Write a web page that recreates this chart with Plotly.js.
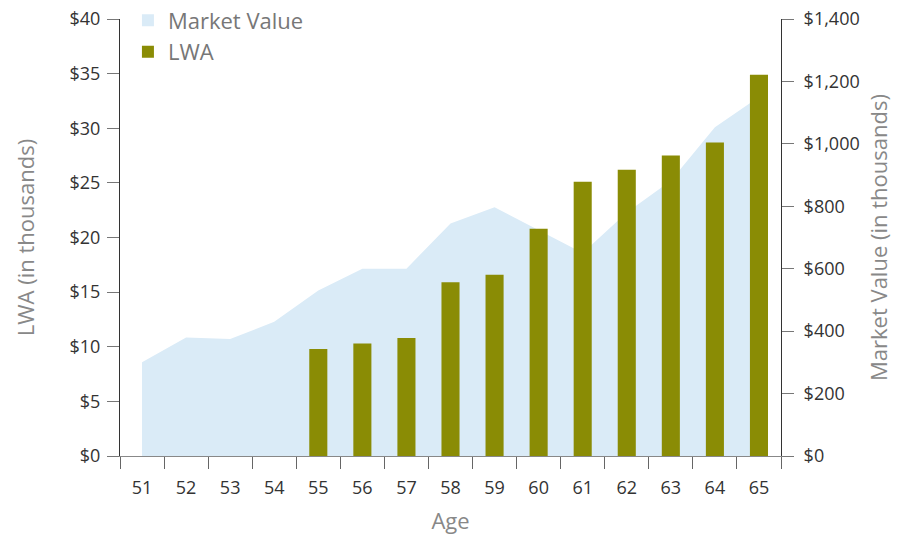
<!DOCTYPE html>
<html><head><meta charset="utf-8">
<script src="https://cdn.plot.ly/plotly-3.0.1.min.js"></script>
<style>body{margin:0;background:#fff}</style></head>
<body><div id="chart" style="width:901px;height:535px"></div>
<script>
const ages = ['51','52','53','54','55','56','57','58','59','60','61','62','63','64','65'];
const marketValue = [300, 380, 375, 430, 530, 600, 600, 745, 797, 723, 650, 780, 882, 1053, 1150];
const lwa = [null, null, null, null, 9.8, 10.3, 10.8, 15.9, 16.6, 20.8, 25.1, 26.2, 27.5, 28.7, 34.9];
const lwaTicks = [0, 5, 10, 15, 20, 25, 30, 35, 40];
const lwaTickText = ['$0', '$5', '$10', '$15', '$20', '$25', '$30', '$35', '$40'];
const mvTicks = [0, 200, 400, 600, 800, 1000, 1200, 1400];
const mvTickText = ['$0', '$200', '$400', '$600', '$800', '$1,000', '$1,200', '$1,400'];

const FONT = 'Open Sans, sans-serif';
const areaColor = '#DAEBF7';
const barColor = '#8A8C05';
const TITLE_SIZE = 22;
const TICK_SIZE = 18;

const traces = [
  {type:'scatter', mode:'lines', x: ages, y: marketValue, fill:'tozeroy', fillcolor: areaColor,
   line:{width:0, color: areaColor}, yaxis:'y', showlegend:false, hoverinfo:'skip', name:'Market Value'},
  {type:'bar', x: ages, y: ages.map(() => null), name:'Market Value', marker:{color: areaColor}, yaxis:'y', hoverinfo:'skip'},
  {type:'bar', x: ages, y: lwa, name:'LWA', marker:{color: barColor}, yaxis:'y2'}
];

const axisCommon = {
  showgrid:false, zeroline:false, showline:true, linecolor:'#333', linewidth:1,
  ticks:'outside', ticklen:12, tickcolor:'#777', tickwidth:1,
  tickfont:{family: FONT, size: TICK_SIZE, color:'#333'}, tickmode:'array'
};

const layout = {
  width:901, height:535,
  margin:{l:120, r:120, t:19, b:79, autoexpand:false},
  paper_bgcolor:'#fff', plot_bgcolor:'#fff',
  font:{family: FONT},
  bargap:0.59, barmode:'overlay',
  xaxis:{type:'category', range:[-0.5, 14.5], tickson:'boundaries', ticks:'outside', ticklen:12,
    tickcolor:'#666', showline:true, linecolor:'#888', showgrid:false, zeroline:false,
    ticklabelstandoff:15,
    tickfont:{family: FONT, size: TICK_SIZE, color:'#333'},
    title:{text:'Age', font:{family: FONT, size: TITLE_SIZE, color:'#888'}, standoff:18}},
  yaxis: Object.assign({}, axisCommon, {side:'right', range:[0,1400], tickvals: mvTicks, ticktext: mvTickText,
    ticklabelstandoff:6,
    title:{text:'Market Value (in thousands)', font:{family: FONT, size: TITLE_SIZE, color:'#888'}, standoff:12}}),
  yaxis2: Object.assign({}, axisCommon, {side:'left', overlaying:'y', range:[0,40], tickvals: lwaTicks, ticktext: lwaTickText,
    ticklabelstandoff:3,
    title:{text:'LWA (in thousands)', font:{family: FONT, size: TITLE_SIZE, color:'#888'}, standoff:28}}),
  legend:{x:0.012, y:1.045, xanchor:'left', yanchor:'top', bgcolor:'rgba(0,0,0,0)',
    font:{family: FONT, size: TITLE_SIZE, color:'#777'}, tracegroupgap:0},
  showlegend:true
};

Plotly.newPlot('chart', traces, layout, {displayModeBar:false, staticPlot:true});
</script></body></html>
